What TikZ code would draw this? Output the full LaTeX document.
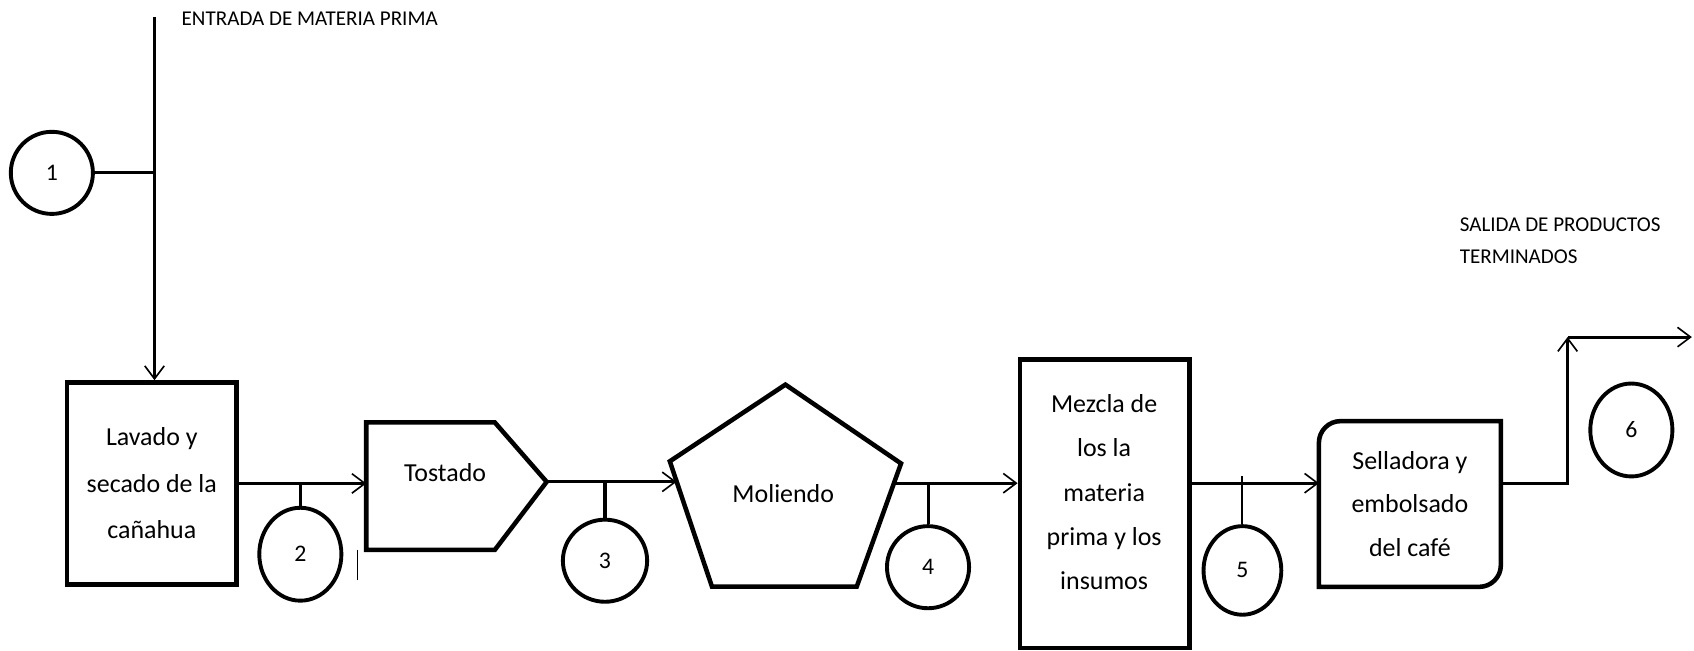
\documentclass[tikz,border=0pt]{standalone}
\usepackage{fontspec}
\setmainfont{Carlito}
\usetikzlibrary{arrows.meta,shapes.geometric,calc}

\begin{document}
\begin{tikzpicture}[x=1pt,y=-1pt]
% Default looks for the diagram
\tikzstyle{every node}=[font=\fontsize{24}{43}\selectfont, inner sep=0pt]
\tikzstyle{box}=[draw, line width=4.2pt, align=center]
\tikzstyle{num}=[draw, ellipse, line width=3.6pt, font=\fontsize{22}{26}\selectfont]
\tikzstyle{link}=[draw, line width=2.8pt]
\tikzstyle{flow}=[link, -{Straight Barb[length=12pt,width=18pt,line width=1.5pt]}]
\tikzstyle{note}=[font=\fontsize{19.5}{30}\selectfont, anchor=west, align=left]
\useasboundingbox (0,0) rectangle (1568,602);

% Numbered points
\node [num, minimum width=76pt, minimum height=76pt] (c1) at (48,160) {1};
\node [num, minimum width=76pt, minimum height=86pt] (c2) at (278,513) {2};
\node [num, minimum width=78pt, minimum height=76pt] (c3) at (560,519) {3};
\node [num, minimum width=76pt, minimum height=76pt] (c4) at (859,525) {4};
\node [num, minimum width=72pt, minimum height=82pt] (c5) at (1150,528) {5};
\node [num, minimum width=76pt, minimum height=86pt] (c6) at (1510,398) {6};

% Entry of raw material
\node [note] (in) at (168,17) {ENTRADA DE MATERIA PRIMA};
\coordinate (top) at (143,16);
\node [box, minimum width=157pt, minimum height=187pt] (b1) at (140.5,447.5)
{Lavado y\\secado de la\\cañahua};
\draw [flow] (top) -- (top |- b1.north);
\draw [link] (c1.east) -- (c1.east -| top);

% Tostado
\draw [box] (339,391) -- (458,391) -- (506,446) coordinate (s2e)
-- (458,509) -- (339,509) -- cycle;
\coordinate (s2w) at (339,447);
\node (s2) at (412,437) {Tostado};
\draw [flow] (b1.east) -- (b1.east -| s2w);
\draw [link] (c2.north) -- (c2.north |- b1.east);
\draw [line width=1.4pt] (331,509) -- (331,537);

% Moliendo
\draw [box] (727,356) coordinate (p1) -- (834,429) coordinate (p2)
-- (793,543) coordinate (p3) -- (659,543) coordinate (p4)
-- (620,427) coordinate (p5) -- cycle;
\node (s3) at (725,457) {Moliendo};
\coordinate (pin) at ($(p5)!0.16!(p4)$);
\coordinate (pout) at ($(p2)!0.16!(p3)$);
\draw [flow] (s2e) -- (s2e -| pin);
\draw [link] (c3.north) -- (c3.north |- s2e);

% Mezcla
\node [box, minimum width=157pt, minimum height=267pt] (b4) at (1022.5,466.5) {};
\draw [line width=2pt] ([yshift=-2.5pt]b4.north west) -- ([yshift=-2.5pt]b4.north east);
\node [align=center, font=\fontsize{24}{41}\selectfont] (s4) at (1022,455.6)
{Mezcla de\\los la\\materia\\prima y los\\insumos};
\draw [flow] (pout) -- (pout -| b4.west);
\draw [link] (c4.north) -- (c4.north |- pout);

% Selladora (two round corners)
\node [minimum width=168pt, minimum height=153pt, align=center,
font=\fontsize{24}{40}\selectfont] (b5) at (1305,466.5)
{Selladora y\\embolsado\\del café};
\draw [box] ($(b5.north west)+(0,20)$) arc[start angle=180, end angle=90, radius=20pt]
-- (b5.north east) -- ($(b5.south east)+(0,-20)$)
arc[start angle=0, end angle=-90, radius=20pt] -- (b5.south west) -- cycle;
\draw [flow] (pout -| b4.east) -- (pout -| b5.west);
\draw [line width=1.8pt] (c5.north) -- ($(c5.north |- pout)+(0,-7)$);

% Exit of finished products
\node [note] (out) at (1351,223) {SALIDA DE PRODUCTOS\\TERMINADOS};
\coordinate (up) at (1451,312);
\coordinate (exit) at (1566,312);
\draw [flow] (pout -| b5.east) -| (up);
\draw [flow] (up) -- (exit);
\end{tikzpicture}
\end{document}
